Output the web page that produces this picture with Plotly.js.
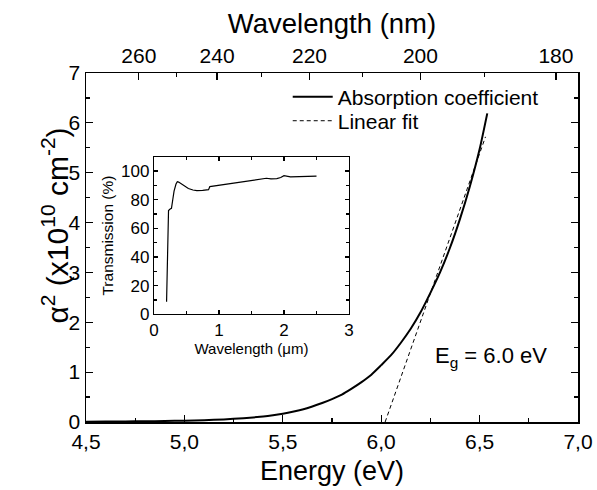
<!DOCTYPE html>
<html>
<head>
<meta charset="utf-8">
<script src="https://cdn.plot.ly/plotly-3.0.1.min.js"></script>
<style>html,body{margin:0;padding:0;background:#fff;}#chart{width:597px;height:490px;}</style>
</head>
<body>
<div id="chart"></div>
<script>
// Main curve: alpha^2 (x10^10 cm^-2) vs photon energy (eV)
const energy = [4.50, 4.60, 4.70, 4.80, 4.90, 5.00, 5.10, 5.20, 5.30, 5.40, 5.45, 5.50, 5.55, 5.60, 5.65, 5.70, 5.75, 5.80, 5.85, 5.90, 5.95, 6.00, 6.05, 6.10, 6.15, 6.20, 6.25, 6.30, 6.35, 6.40, 6.45, 6.50, 6.539];
const alpha2 = [0.005, 0.008, 0.011, 0.015, 0.020, 0.027, 0.037, 0.052, 0.075, 0.11, 0.135, 0.167, 0.205, 0.25, 0.31, 0.38, 0.46, 0.55, 0.67, 0.80, 0.95, 1.14, 1.34, 1.59, 1.87, 2.20, 2.59, 3.01, 3.50, 4.07, 4.72, 5.47, 6.19];
// Linear fit
const fitEnergy = [6.02, 6.53];
const fitAlpha2 = [0.00, 5.72];
// Inset: transmission (%) vs wavelength (um)
const insetWl = [0.195, 0.21, 0.225, 0.25, 0.27, 0.29, 0.31, 0.34, 0.36, 0.38, 0.43, 0.48, 0.53, 0.60, 0.66, 0.75, 0.84, 0.86, 1.00, 1.22, 1.48, 1.73, 1.80, 1.89, 1.95, 2.00, 2.10, 2.25, 2.50];
const insetT = [8.7, 50, 72.5, 73.5, 74, 80, 86, 91, 92.6, 92.3, 90.8, 89.2, 87.8, 86.8, 86.4, 86.5, 87, 89.2, 90.2, 91.8, 93.6, 95, 94.6, 94.8, 95.5, 96.8, 96, 96, 96.5];
// Tick labels
const energyTicks = [4.5, 5.0, 5.5, 6.0, 6.5, 7.0];
const energyTickText = ["4,5", "5,0", "5,5", "6,0", "6,5", "7,0"];
const wlTicks = [260, 240, 220, 200, 180];
const wlMinorTicks = [250, 230, 210, 190];
const hc = 1239.84;

const font = "Liberation Sans, Arial, Helvetica, sans-serif";

const traces = [
  {x: energy, y: alpha2, type: 'scatter', mode: 'lines', name: 'Absorption coefficient',
   line: {color: '#000', width: 2, shape: 'spline', smoothing: 0.6}, xaxis: 'x', yaxis: 'y', legend: 'legend'},
  {x: fitEnergy, y: fitAlpha2, type: 'scatter', mode: 'lines', name: 'Linear fit',
   line: {color: '#000', width: 1, dash: '4px,3px'}, xaxis: 'x', yaxis: 'y', legend: 'legend2'},
  // carrier for the top wavelength axis (invisible)
  {x: fitEnergy, y: fitAlpha2, type: 'scatter', mode: 'lines', showlegend: false, hoverinfo: 'skip',
   opacity: 0, line: {width: 0}, xaxis: 'x2', yaxis: 'y'},
  {x: insetWl, y: insetT, type: 'scatter', mode: 'lines', showlegend: false,
   line: {color: '#000', width: 1.2}, xaxis: 'x3', yaxis: 'y3'}
];

const axBase = {showline: true, linecolor: '#000', linewidth: 1.5, ticks: 'inside', tickcolor: '#000',
  ticklen: 7, tickwidth: 1.2, showgrid: false, zeroline: false};

const legBase = {xanchor: 'left', yanchor: 'top', bgcolor: 'rgba(0,0,0,0)', font: {size: 21, family: font}, itemwidth: 40};

const layout = {
  width: 597, height: 490,
  margin: {l: 86, r: 19, t: 73, b: 68},
  paper_bgcolor: '#fff', plot_bgcolor: '#fff',
  font: {family: font, color: '#000', size: 20},
  showlegend: true,
  legend: Object.assign({}, legBase, {x: 0.41, y: 0.99}),
  legend2: Object.assign({}, legBase, {x: 0.41, y: 0.921}),
  xaxis: Object.assign({}, axBase, {
    range: [4.5, 7.0], tickmode: 'array', tickvals: energyTicks, ticktext: energyTickText,
    minor: {dtick: 0.25, ticks: 'inside', ticklen: 4, tickcolor: '#000', tickwidth: 1.2},
    mirror: false, anchor: 'y',
    title: {text: 'Energy (eV)', font: {size: 27, family: font}, standoff: 9},
    tickfont: {size: 21, family: font}
  }),
  xaxis2: Object.assign({}, axBase, {
    range: [4.5, 7.0], overlaying: 'x', side: 'top', anchor: 'y',
    tickmode: 'array', tickvals: wlTicks.map(w => hc / w), ticktext: wlTicks.map(String),
    minor: {tickmode: 'array', tickvals: wlMinorTicks.map(w => hc / w), ticks: 'inside', ticklen: 4, tickcolor: '#000', tickwidth: 1.2},
    title: {text: 'Wavelength (nm)', font: {size: 27.5, family: font}, standoff: 2},
    tickfont: {size: 21, family: font}
  }),
  yaxis: Object.assign({}, axBase, {
    range: [0, 7], dtick: 1, mirror: 'ticks',
    minor: {dtick: 0.5, ticks: 'inside', ticklen: 4, tickcolor: '#000', tickwidth: 1.2},
    tickfont: {size: 21, family: font}
  }),
  xaxis3: Object.assign({}, axBase, {
    domain: [0.138, 0.5346], anchor: 'y3', range: [0, 3], dtick: 1, mirror: 'ticks', linewidth: 1,
    ticklen: 4, minor: {dtick: 0.5, ticks: 'inside', ticklen: 3, tickcolor: '#000'},
    title: {text: 'Wavelength (μm)', font: {size: 15, family: font}, standoff: 4},
    tickfont: {size: 17, family: font}
  }),
  yaxis3: Object.assign({}, axBase, {
    domain: [0.3086, 0.760], anchor: 'x3', range: [0, 110], dtick: 20, mirror: 'ticks', linewidth: 1,
    ticklen: 4, minor: {dtick: 10, ticks: 'inside', ticklen: 3, tickcolor: '#000'},
    title: {text: 'Transmission (%)', font: {size: 15.5, family: font}, standoff: 3},
    tickfont: {size: 17, family: font}
  }),
  annotations: [
    {xref: 'x', yref: 'y', x: 6.56, y: 1.3, text: 'E<sub>g</sub> = 6.0 eV', showarrow: false,
     font: {size: 22, family: font}},
    {xref: 'paper', yref: 'paper', x: -0.105, y: 0.564, textangle: -90, showarrow: false,
     text: 'α<sup>2</sup> (x10<sup>10</sup> cm<sup>-2</sup>)',
     font: {size: 30, family: font}}
  ]
};

Plotly.newPlot('chart', traces, layout, {displayModeBar: false, staticPlot: true});
</script>
</body>
</html>
